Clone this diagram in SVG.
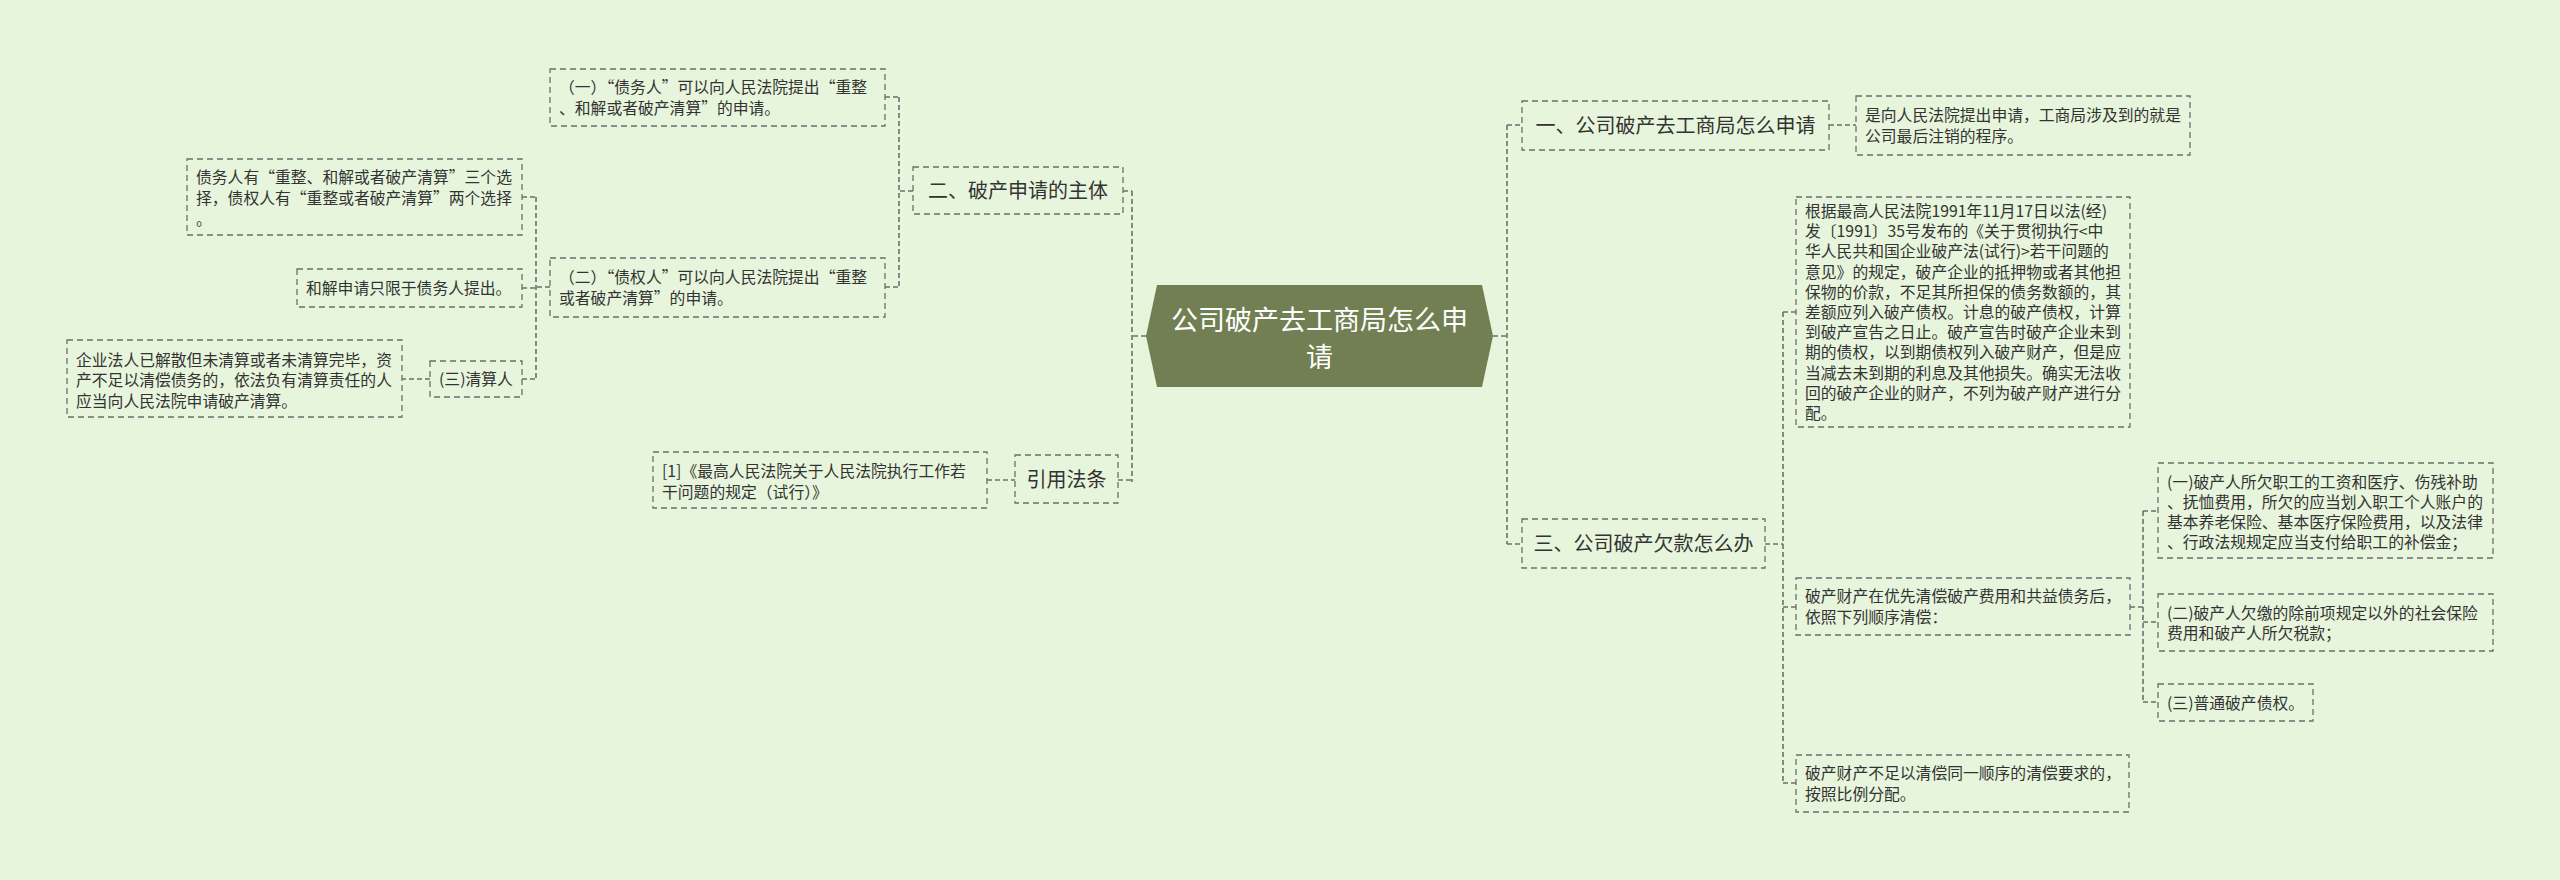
<svg xmlns="http://www.w3.org/2000/svg" width="2560" height="880" viewBox="0 0 2560 880">
<style>
.bg{fill:#e7f5dc}
.box{fill:none;stroke:#6e6e6e;stroke-width:1.3;stroke-dasharray:6 4}
.lnk{fill:none;stroke:#6e6e6e;stroke-width:1.6;stroke-dasharray:5 3}
text{font-family:"Noto Sans CJK SC","Noto Sans",sans-serif;fill:#333}
.t{font-size:15.8px}
.t1{font-size:20px}
.c{text-anchor:middle}
.root{fill:#717f52}
.rt{font-size:27px;fill:#ffffff}
</style>
<rect class="bg" x="0" y="0" width="2560" height="880"/>
<g id="connectors">
<path class="lnk" d="M1146 336H1132M1132 191V482M1123 191H1132M1118 480H1132"/>
<path class="lnk" d="M913 191H899M899 97V287M885 97H899M885 287H899"/>
<path class="lnk" d="M550 287H536M536 197V379M522 197H536M522 288H536M522 379H536"/>
<path class="lnk" d="M430 379H402M987 480H1015"/>
<path class="lnk" d="M1493 336H1507M1507 125V544M1507 125H1522M1507 544H1522M1829 125H1856"/>
<path class="lnk" d="M1765 544H1783M1783 312V783M1783 312H1796M1783 607H1796M1783 783H1796"/>
<path class="lnk" d="M2130 607H2143M2143 511V702M2143 511H2158M2143 622H2158M2143 702H2158"/>
</g>
<g id="root">
<polygon class="root" points="1146,336 1157,285 1482,285 1493,336 1482,387 1157,387"/>
<text class="rt c" x="1319.5" y="330">公司破产去工商局怎么申</text>
<text class="rt c" x="1319.5" y="367">请</text>
</g>
<g id="n-zhuti">
<rect class="box" x="913" y="167" width="210" height="47"/>
<text class="t1 c" x="1018" y="198">二、破产申请的主体</text>
</g>
<g id="n-zhuti-1">
<rect class="box" x="550" y="69" width="335" height="57"/>
<text class="t" x="559" y="93">（一）“债务人”可以向人民法院提出“重整</text>
<text class="t" x="559" y="114">、和解或者破产清算”的申请。</text>
</g>
<g id="n-zhuti-2">
<rect class="box" x="550" y="258" width="335" height="59"/>
<text class="t" x="559" y="283">（二）“债权人”可以向人民法院提出“重整</text>
<text class="t" x="559" y="304">或者破产清算”的申请。</text>
</g>
<g id="n-xuanze">
<rect class="box" x="187" y="159" width="335" height="76"/>
<text class="t" x="196" y="183">债务人有“重整、和解或者破产清算”三个选</text>
<text class="t" x="196" y="204">择，债权人有“重整或者破产清算”两个选择</text>
<text class="t" x="196" y="225">。</text>
</g>
<g id="n-hejie">
<rect class="box" x="297" y="269" width="225" height="38"/>
<text class="t" x="306" y="294">和解申请只限于债务人提出。</text>
</g>
<g id="n-qingsuanren">
<rect class="box" x="430" y="361" width="92" height="36"/>
<text class="t" x="439" y="385">(三)清算人</text>
</g>
<g id="n-qiye">
<rect class="box" x="67" y="340" width="335" height="77"/>
<text class="t" x="76" y="365.5">企业法人已解散但未清算或者未清算完毕，资</text>
<text class="t" x="76" y="386">产不足以清偿债务的，依法负有清算责任的人</text>
<text class="t" x="76" y="406.5">应当向人民法院申请破产清算。</text>
</g>
<g id="n-yinyong">
<rect class="box" x="1015" y="455" width="103" height="48"/>
<text class="t1 c" x="1066.5" y="487">引用法条</text>
</g>
<g id="n-yinyong-1">
<rect class="box" x="653" y="452" width="334" height="56"/>
<text class="t" x="662" y="477">[1]《最高人民法院关于人民法院执行工作若</text>
<text class="t" x="662" y="498">干问题的规定（试行）》</text>
</g>
<g id="n-gongshang">
<rect class="box" x="1522" y="101" width="307" height="49"/>
<text class="t1 c" x="1675.5" y="133">一、公司破产去工商局怎么申请</text>
</g>
<g id="n-gongshang-1">
<rect class="box" x="1856" y="96" width="334" height="59"/>
<text class="t" x="1865" y="121">是向人民法院提出申请，工商局涉及到的就是</text>
<text class="t" x="1865" y="142">公司最后注销的程序。</text>
</g>
<g id="n-qiankuan">
<rect class="box" x="1522" y="519" width="243" height="49"/>
<text class="t1 c" x="1643.5" y="551">三、公司破产欠款怎么办</text>
</g>
<g id="n-genju">
<rect class="box" x="1796" y="197" width="334" height="230"/>
<text class="t" x="1805" y="217">根据最高人民法院1991年11月17日以法(经)</text>
<text class="t" x="1805" y="237.2">发〔1991〕35号发布的《关于贯彻执行&lt;中</text>
<text class="t" x="1805" y="257.4">华人民共和国企业破产法(试行)&gt;若干问题的</text>
<text class="t" x="1805" y="277.6">意见》的规定，破产企业的抵押物或者其他担</text>
<text class="t" x="1805" y="297.8">保物的价款，不足其所担保的债务数额的，其</text>
<text class="t" x="1805" y="318">差额应列入破产债权。计息的破产债权，计算</text>
<text class="t" x="1805" y="338.2">到破产宣告之日止。破产宣告时破产企业未到</text>
<text class="t" x="1805" y="358.4">期的债权，以到期债权列入破产财产，但是应</text>
<text class="t" x="1805" y="378.6">当减去未到期的利息及其他损失。确实无法收</text>
<text class="t" x="1805" y="398.8">回的破产企业的财产，不列为破产财产进行分</text>
<text class="t" x="1805" y="419">配。</text>
</g>
<g id="n-youxian">
<rect class="box" x="1796" y="578" width="334" height="57"/>
<text class="t" x="1805" y="602">破产财产在优先清偿破产费用和共益债务后，</text>
<text class="t" x="1805" y="623">依照下列顺序清偿：</text>
</g>
<g id="n-youxian-1">
<rect class="box" x="2158" y="463" width="335" height="95"/>
<text class="t" x="2167" y="488">(一)破产人所欠职工的工资和医疗、伤残补助</text>
<text class="t" x="2167" y="508">、抚恤费用，所欠的应当划入职工个人账户的</text>
<text class="t" x="2167" y="528">基本养老保险、基本医疗保险费用，以及法律</text>
<text class="t" x="2167" y="548">、行政法规规定应当支付给职工的补偿金；</text>
</g>
<g id="n-youxian-2">
<rect class="box" x="2158" y="594" width="335" height="57"/>
<text class="t" x="2167" y="618.5">(二)破产人欠缴的除前项规定以外的社会保险</text>
<text class="t" x="2167" y="639">费用和破产人所欠税款；</text>
</g>
<g id="n-youxian-3">
<rect class="box" x="2158" y="684" width="155" height="37"/>
<text class="t" x="2167" y="708.5">(三)普通破产债权。</text>
</g>
<g id="n-buzu">
<rect class="box" x="1796" y="755" width="333" height="57"/>
<text class="t" x="1805" y="779">破产财产不足以清偿同一顺序的清偿要求的，</text>
<text class="t" x="1805" y="800">按照比例分配。</text>
</g>
</svg>
